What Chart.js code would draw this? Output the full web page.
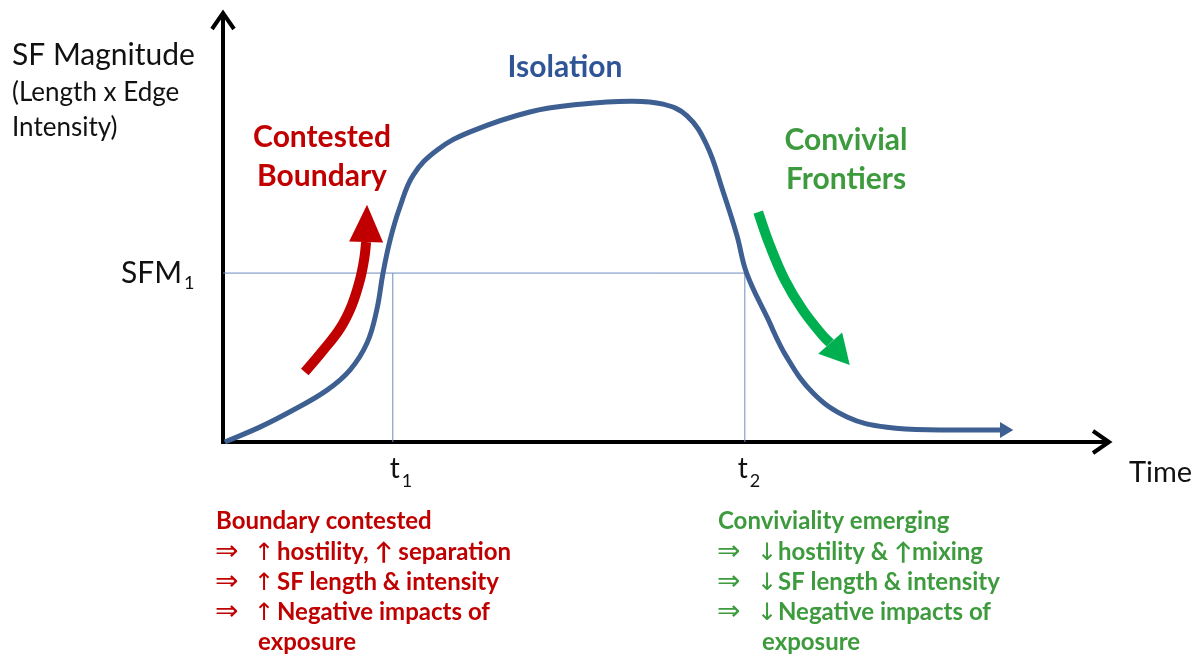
<!DOCTYPE html>
<html>
<head>
<meta charset="utf-8">
<script src="https://cdn.jsdelivr.net/npm/chart.js@4"></script>
<style>
    body { margin: 0; background: #fff; }
</style>
</head>
<body>
<canvas id="myChart" width="1203" height="661"></canvas>
<script>
/*               data (both axes run 0 - 100)                */

const curveTime = [0.2, 4.2, 7.9, 11.7, 14.3, 16.2, 17.3, 18.0, 18.8, 19.9, 21.4, 24.1, 27.8, 34.5, 40.2, 45.8, 49.5, 52.2, 54.4, 56.2, 57.8, 58.9, 61.2, 63.4, 66.4, 70.2, 74.7, 81.0, 87.4];
const curveMagnitude = [0, 3.5, 7.4, 12.0, 16.7, 22.9, 30.6, 39.1, 46.8, 54.4, 61.8, 67.6, 71.8, 76.4, 78.2, 78.9, 78.2, 75.5, 68.8, 58.3, 47.9, 39.1, 28.9, 19.7, 11.3, 5.8, 3.4, 2.8, 2.8];
const curveTip = [88.9, 2.8];

const sfm1 = 39.1;
const t1 = 19.1;
const t2 = 58.7;

const redTime = [9.2, 11.1, 13.2, 14.5, 15.4, 15.9, 16.1];
const redMagnitude = [16.2, 20.8, 26.4, 31.7, 37.5, 42.6, 46.3];
const redTip = [16.2, 54.9];

const greenTime = [60.2, 61.5, 63.2, 65.2, 67.4, 68.3];
const greenMagnitude = [53.2, 45.6, 37.5, 30.6, 24.8, 22.9];
const greenTip = [70.5, 17.8];

const leftNotes = ['Boundary contested', 'hostility, \u2191 separation', 'SF length & intensity', 'Negative impacts of', 'exposure'];
const rightNotes = ['Conviviality emerging', 'hostility & \u2191mixing', 'SF length & intensity', 'Negative impacts of', 'exposure'];

const blue = '#3d5f91';
const red = '#c00000';
const green = '#3d9b3d';
const font = 'Lato, "Open Sans", sans-serif';

function pts(xs, ys) {
    return xs.map(function (x, i) { return { x: x, y: ys[i] }; });
}

/*               axes with open arrow heads                */

const axesPlugin = {
    id: 'axes',
    beforeDatasetsDraw: function (chart) {
        let c = chart.ctx;
        let a = chart.chartArea;
        c.save();
        c.strokeStyle = '#000';
        c.lineWidth = 4;
        c.lineJoin = 'miter';
        c.beginPath();
        c.moveTo(a.left, a.top + 4);
        c.lineTo(a.left, a.bottom);
        c.lineTo(a.right - 4, a.bottom);
        c.stroke();
        c.beginPath();
        c.moveTo(a.left - 11, a.top + 19);
        c.lineTo(a.left, a.top + 3);
        c.lineTo(a.left + 11, a.top + 19);
        c.stroke();
        c.beginPath();
        c.moveTo(a.right - 19, a.bottom - 11);
        c.lineTo(a.right - 3, a.bottom);
        c.lineTo(a.right - 19, a.bottom + 11);
        c.stroke();
        c.restore();
    }
};

/*               filled arrow heads on the curves                */

function drawHead(chart, base, tip, half, color) {
    let c = chart.ctx;
    let sx = chart.scales.x, sy = chart.scales.y;
    let bx = sx.getPixelForValue(base.x), by = sy.getPixelForValue(base.y);
    let tx = sx.getPixelForValue(tip[0]), ty = sy.getPixelForValue(tip[1]);
    let ang = Math.atan2(ty - by, tx - bx);
    let nx = -Math.sin(ang) * half, ny = Math.cos(ang) * half;
    c.save();
    c.fillStyle = color;
    c.beginPath();
    c.moveTo(tx, ty);
    c.lineTo(bx + nx, by + ny);
    c.lineTo(bx - nx, by - ny);
    c.closePath();
    c.fill();
    c.restore();
}

const headsPlugin = {
    id: 'heads',
    afterDatasetsDraw: function (chart) {
        let last = function (xs, ys) { return { x: xs[xs.length - 1], y: ys[ys.length - 1] }; };
        drawHead(chart, last(curveTime, curveMagnitude), curveTip, 8, blue);
        drawHead(chart, last(redTime, redMagnitude), redTip, 17, red);
        drawHead(chart, last(greenTime, greenMagnitude), greenTip, 16, '#00b050');
    }
};

/*               labels                */

function txt(c, s, x, y, f, color, align) {
    c.font = f;
    c.fillStyle = color;
    c.textAlign = align || 'left';
    c.fillText(s, x, y);
}

const labelsPlugin = {
    id: 'labels',
    afterDraw: function (chart) {
        let c = chart.ctx;
        let sx = chart.scales.x, sy = chart.scales.y;
        c.save();
        c.textBaseline = 'alphabetic';

        txt(c, 'SF Magnitude', 12, 65, '30px ' + font, '#111');
        txt(c, '(Length x Edge', 12, 101, '26px ' + font, '#111');
        txt(c, 'Intensity)', 12, 136, '26px ' + font, '#111');

        let ySfm = sy.getPixelForValue(sfm1);
        txt(c, 'SFM', 182, ySfm + 10, '30px ' + font, '#111', 'right');
        txt(c, '1', 184, ySfm + 16, '18px ' + font, '#111');

        let x1 = sx.getPixelForValue(t1), x2 = sx.getPixelForValue(t2);
        txt(c, 't', x1 + 7, 478, '28px ' + font, '#111', 'right');
        txt(c, '1', x1 + 9, 487, '18px ' + font, '#111');
        txt(c, 't', x2 + 3, 478, '28px ' + font, '#111', 'right');
        txt(c, '2', x2 + 5, 487, '18px ' + font, '#111');
        txt(c, 'Time', 1129, 482, '29px ' + font, '#111');

        txt(c, 'Isolation', 565, 77, 'bold 30px ' + font, '#2f5597', 'center');
        txt(c, 'Contested', 322, 147, 'bold 30px ' + font, red, 'center');
        txt(c, 'Boundary', 322, 186, 'bold 30px ' + font, red, 'center');
        txt(c, 'Convivial', 846, 150, 'bold 30px ' + font, green, 'center');
        txt(c, 'Frontiers', 846, 189, 'bold 30px ' + font, green, 'center');

        let bold = 'bold 24px ' + font;
        let thin = '28px "DejaVu Sans", sans-serif';
        let lines = [529, 560, 590, 620, 650];

        txt(c, leftNotes[0], 216, lines[0], bold, red);
        for (let i = 1; i < 4; i++) {
            txt(c, '\u21D2', 215, lines[i], thin, red);
            txt(c, '\u2191', 254, lines[i], '24px "DejaVu Sans", sans-serif', red);
            txt(c, leftNotes[i], 277, lines[i], bold, red);
        }
        txt(c, leftNotes[4], 258, lines[4], bold, red);

        txt(c, rightNotes[0], 718, lines[0], bold, green);
        for (let i = 1; i < 4; i++) {
            txt(c, '\u21D2', 717, lines[i], thin, green);
            txt(c, '\u2193', 757, lines[i], '24px "DejaVu Sans", sans-serif', green);
            txt(c, rightNotes[i], 778, lines[i], bold, green);
        }
        txt(c, rightNotes[4], 762, lines[4], bold, green);
        c.restore();
    }
};

/*               chart                */

let ctx = document.getElementById('myChart').getContext('2d');
let chart = new Chart(ctx, {
    type: 'line',
    data: {
        datasets: [{
            data: pts(curveTime, curveMagnitude),
            borderColor: blue,
            borderWidth: 5,
            tension: 0.4
        }, {
            data: pts(redTime, redMagnitude),
            borderColor: red,
            borderWidth: 10,
            tension: 0.4
        }, {
            data: pts(greenTime, greenMagnitude),
            borderColor: '#00b050',
            borderWidth: 10,
            tension: 0.4
        }, {
            data: [{ x: 0, y: sfm1 }, { x: t2, y: sfm1 }],
            borderColor: '#6a8cbf',
            borderWidth: 1
        }, {
            data: [{ x: t1, y: 0 }, { x: t1, y: sfm1 }],
            borderColor: '#6a8cbf',
            borderWidth: 1
        }, {
            data: [{ x: t2, y: 0 }, { x: t2, y: sfm1 }],
            borderColor: '#6a8cbf',
            borderWidth: 1
        }]
    },
    options: {
        responsive: false,
        animation: false,
        devicePixelRatio: 1,
        clip: false,
        layout: { padding: { left: 223, right: 91, top: 10, bottom: 219 } },
        elements: { point: { radius: 0 } },
        scales: {
            x: { type: 'linear', min: 0, max: 100, display: false },
            y: { type: 'linear', min: 0, max: 100, display: false }
        },
        plugins: {
            legend: { display: false },
            tooltip: { enabled: false }
        }
    },
    plugins: [axesPlugin, headsPlugin, labelsPlugin]
});
</script>
</body>
</html>
